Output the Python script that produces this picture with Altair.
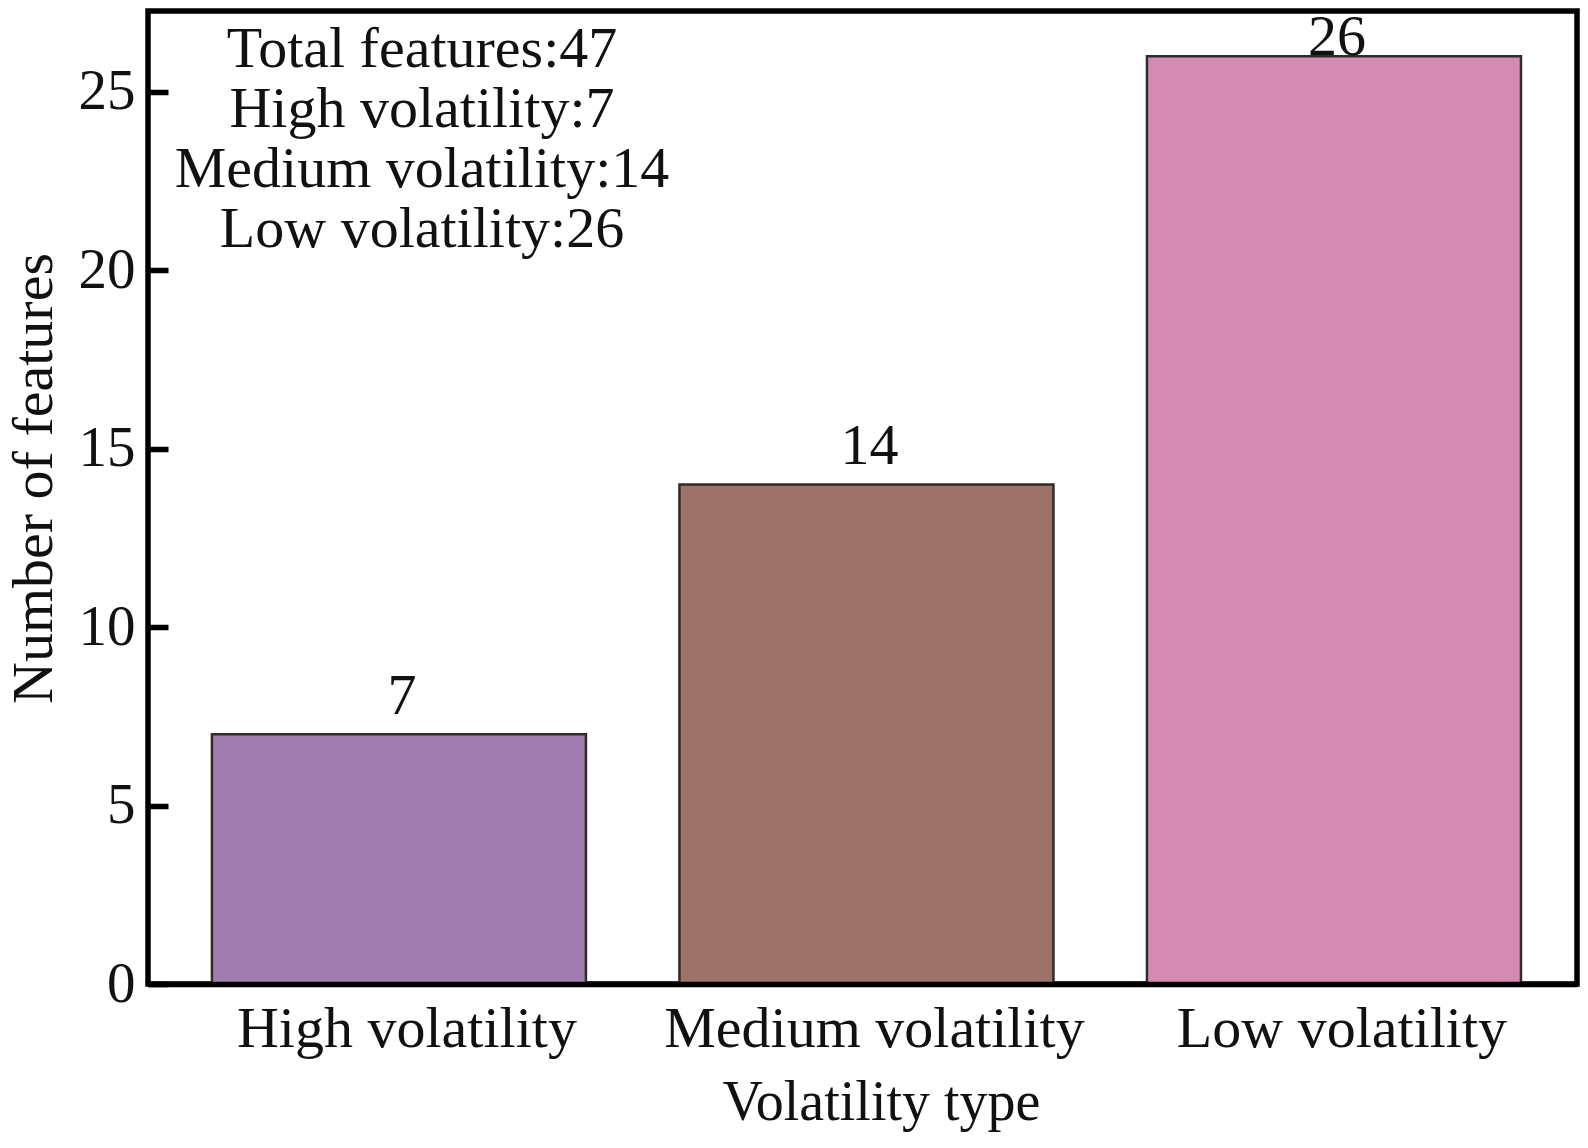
import altair as alt
import pandas as pd

# ---- data ----
categories = ["High volatility", "Medium volatility", "Low volatility"]
counts = [7, 14, 26]
colors = ["#A07DAF", "#9D7369", "#D58AB4"]
y_ticks = [0, 5, 10, 15, 20, 25]
note_lines = ["Total features:" + str(sum(counts))] + [
    f"{c}:{v}" for c, v in zip(categories, counts)
]

df = pd.DataFrame({"type": categories, "count": counts})
note_df = pd.DataFrame({"note": ["\n".join(note_lines)]})

FONT = "Liberation Serif"
INK = "#111111"
W, H = 1429, 973
YMAX = 27.27

x_enc = alt.X(
    "type:N",
    sort=categories,
    title="Volatility type",
    scale=alt.Scale(paddingInner=0.2, paddingOuter=0.1283, align=0.533),
    axis=alt.Axis(
        labelAngle=0,
        ticks=False,
        tickSize=0,
        labelLimit=0,
        labelPadding=62.7,
        labelBaseline="alphabetic",
        labelFont=FONT,
        labelFontSize=58,
        labelColor=INK,
        labelOffset=8,
        titleFont=FONT,
        titleFontSize=56,
        titleFontWeight="normal",
        titleColor=INK,
        titleX=733,
        titleY=135,
        titleBaseline="alphabetic",
        titleAlign="center",
        titleLimit=0,
        domain=True,
        domainColor="black",
        domainWidth=5.5,
        zindex=1,
    ),
)

y_enc = alt.Y(
    "count:Q",
    title="Number of features",
    scale=alt.Scale(domain=[0, YMAX], nice=False, zero=True),
    axis=alt.Axis(
        values=y_ticks,
        offset=-20,
        tickSize=20,
        tickWidth=5.5,
        tickColor="black",
        domain=False,
        grid=False,
        labelPadding=13,
        labelFont=FONT,
        labelFontSize=57,
        labelColor=INK,
        titleFont=FONT,
        titleFontSize=58,
        titleFontWeight="normal",
        titleColor=INK,
        titleAngle=270,
        titleX=-117,
        titleY=467,
        titleBaseline="alphabetic",
        titleAlign="center",
        titleLimit=0,
        zindex=1,
    ),
)

bars = alt.Chart(df).mark_bar(stroke="#332a2a", strokeWidth=2.5).encode(
    x=x_enc,
    y=y_enc,
    color=alt.Color(
        "type:N", scale=alt.Scale(domain=categories, range=colors), legend=None
    ),
)

labels = (
    alt.Chart(df)
    .transform_calculate(ly=f"min(datum.count + 0.58, {YMAX} - 1.22)")
    .mark_text(font=FONT, fontSize=58, baseline="alphabetic", dx=3, color=INK)
    .encode(
        x=alt.X("type:N", sort=categories),
        y=alt.Y("ly:Q"),
        text="count:Q",
    )
)

note = (
    alt.Chart(note_df)
    .mark_text(
        font=FONT,
        fontSize=58,
        baseline="alphabetic",
        align="center",
        lineBreak="\n",
        lineHeight=60,
        color=INK,
    )
    .encode(x=alt.value(274), y=alt.value(56), text="note:N")
)

chart = (
    alt.layer(bars, labels, note)
    .properties(
        width=W,
        height=H,
        autosize=alt.AutoSizeParams(type="none"),
        padding={"left": 140, "top": 3, "right": 3, "bottom": 151},
        background="white",
    )
    .configure_view(stroke="black", strokeWidth=5.5)
)

chart.save("out.html", embed_options={"renderer": "svg", "actions": False})
